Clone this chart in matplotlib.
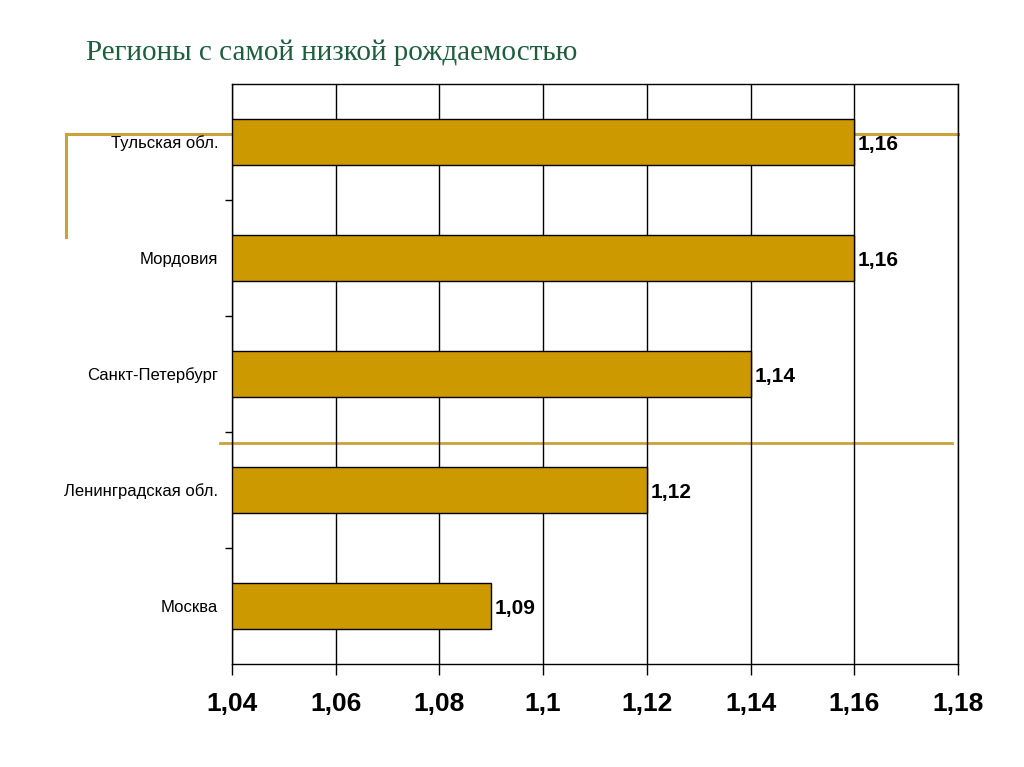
import matplotlib
matplotlib.use('Agg')
import matplotlib.pyplot as plt
from matplotlib.lines import Line2D
from matplotlib.ticker import FixedLocator, FuncFormatter

regions = ['Тульская обл.', 'Мордовия', 'Санкт-Петербург', 'Ленинградская обл.', 'Москва']
values = [1.16, 1.16, 1.14, 1.12, 1.09]
x_ticks = [1.04, 1.06, 1.08, 1.1, 1.12, 1.14, 1.16, 1.18]

bar_color = '#cc9900'
deco_color = '#c9a23c'

plt.rcParams['font.family'] = ['Liberation Sans', 'DejaVu Sans']

fig = plt.figure(figsize=(10.24, 7.67), dpi=100)
ax = fig.add_axes([232 / 1024, 1 - 664 / 767, 726 / 1024, 580 / 767])
ax.patch.set_alpha(0)

ypos = list(range(len(regions)))
ax.barh(ypos, [v - x_ticks[0] for v in values], left=x_ticks[0], height=0.4,
        color=bar_color, edgecolor='black', linewidth=1, zorder=3)

for y, v in zip(ypos, values):
    ax.text(v + 0.0007, y + 0.02, f'{v:.2f}'.replace('.', ','), va='center', ha='left',
            fontsize=15, fontweight='bold', zorder=4)

ax.set_xlim(x_ticks[0], x_ticks[-1])
ax.set_ylim(len(regions) - 0.5, -0.5)
ax.set_xticks(x_ticks)
ax.xaxis.set_major_formatter(FuncFormatter(lambda v, p: f'{v:g}'.replace('.', ',')))
ax.tick_params(axis='x', length=8, width=1, pad=12, labelsize=19)
for lab in ax.get_xticklabels():
    lab.set_fontweight('bold')

ax.set_yticks(ypos)
ax.set_yticklabels(regions)
ax.tick_params(axis='y', which='major', length=0, pad=10, labelsize=12)
ax.yaxis.set_minor_locator(FixedLocator([0.5, 1.5, 2.5, 3.5]))
ax.tick_params(axis='y', which='minor', length=5, width=1)

ax.grid(axis='x', color='black', linewidth=1, zorder=1)
ax.set_axisbelow(True)
for s in ax.spines.values():
    s.set_linewidth(1)
    s.set_color('black')

# decorative slide lines
def fy(py):
    return 1 - py / 767

fig.add_artist(Line2D([66 / 1024, 958 / 1024], [fy(134), fy(134)], color=deco_color, lw=2.2, zorder=-1))
fig.add_artist(Line2D([66 / 1024, 66 / 1024], [fy(134), fy(237)], color=deco_color, lw=2.2, zorder=-1))
fig.add_artist(Line2D([220 / 1024, 952 / 1024], [fy(443), fy(443)], color=deco_color, lw=2, zorder=-1))

fig.text(86 / 1024, fy(53), 'Регионы с самой низкой рождаемостью', family='Liberation Serif',
         fontsize=21, color='#1e5e3e', va='center', ha='left')

fig.savefig('out.png', dpi=100, facecolor='white')
